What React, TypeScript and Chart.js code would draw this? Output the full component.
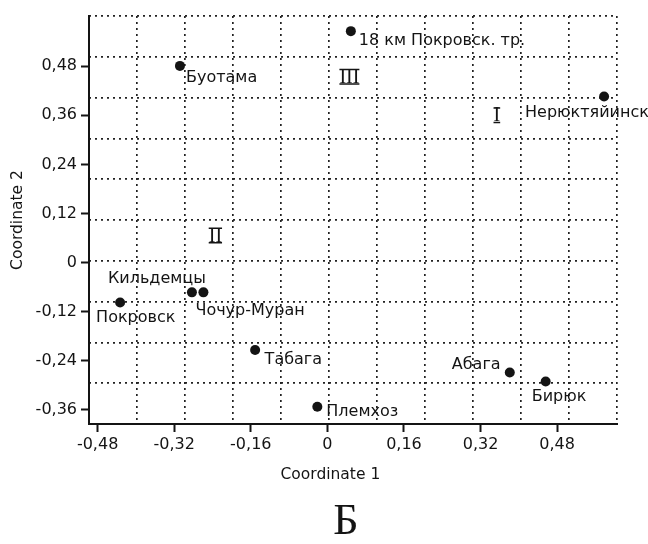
import React, { useEffect, useRef } from 'react';
import { Chart, registerables } from 'chart.js';

Chart.register(...registerables);

// ---- data ----
const SITE_NAMES = [
  '18 км Покровск. тр.',
  'Буотама',
  'Нерюктяйинск',
  'Кильдемцы',
  'Чочур-Муран',
  'Покровск',
  'Табага',
  'Абага',
  'Бирюк',
  'Племхоз',
];
const COORD_1 = [0.049, -0.308, 0.578, -0.283, -0.259, -0.433, -0.151, 0.381, 0.456, -0.021];
const COORD_2 = [0.566, 0.481, 0.406, -0.073, -0.073, -0.098, -0.214, -0.269, -0.291, -0.353];

const X_TICKS = [-0.48, -0.32, -0.16, 0, 0.16, 0.32, 0.48];
const Y_TICKS = [-0.36, -0.24, -0.12, 0, 0.12, 0.24, 0.36, 0.48];
const X_RANGE = [-0.498, 0.605];
const Y_RANGE = [-0.395, 0.603];
const GRID_COLS = 11;
const GRID_ROWS = 10;

const CLUSTER_NAMES = ['I', 'II', 'III'];
const CLUSTER_X = [0.354, -0.234, 0.046];
const CLUSTER_Y = [0.361, 0.067, 0.455];

const X_TITLE = 'Coordinate 1';
const Y_TITLE = 'Coordinate 2';
const PANEL_TITLE = 'Б';

// ---- style ----
const INK = '#141414';
const DOT = '#222222';
const SANS = '"DejaVu Sans", sans-serif';
const SERIF = '"Liberation Serif", serif';
// label offsets from point centre in px: [dx, dy]
const LABEL_OFFSETS: [number, number][] = [
  [8, 10], [6, 12], [-79, 16], [-84, -14], [-8, 18],
  [-24, 15.5], [9.5, 10], [-58, -8], [-14, 15], [9, 5],
];

const fmt = (v: number) => (Math.abs(v) < 1e-9 ? '0' : v.toFixed(2).replace('.', ','));

const labelPlugin = {
  id: 'siteLabels',
  afterDatasetsDraw(chart: any) {
    const ctx = chart.ctx as CanvasRenderingContext2D;
    const meta = chart.getDatasetMeta(0);
    ctx.save();
    ctx.fillStyle = INK;
    ctx.font = `16px ${SANS}`;
    ctx.textAlign = 'left';
    ctx.textBaseline = 'middle';
    meta.data.forEach((pt: any, i: number) => {
      const [dx, dy] = LABEL_OFFSETS[i];
      ctx.fillText(SITE_NAMES[i], pt.x + dx, pt.y + dy);
    });
    ctx.font = `20px ${SERIF}`;
    ctx.textAlign = 'center';
    ctx.textBaseline = 'alphabetic';
    ctx.strokeStyle = INK;
    ctx.lineWidth = 1.5;
    CLUSTER_NAMES.forEach((name, i) => {
      const cx = chart.scales.x.getPixelForValue(CLUSTER_X[i]);
      const cy = chart.scales.y.getPixelForValue(CLUSTER_Y[i]);
      const base = cy + 6.5;
      ctx.fillText(name, cx, base);
      const w = ctx.measureText(name).width;
      ctx.beginPath();
      ctx.moveTo(cx - w / 2, base - 13.5);
      ctx.lineTo(cx + w / 2, base - 13.5);
      ctx.moveTo(cx - w / 2, base + 1);
      ctx.lineTo(cx + w / 2, base + 1);
      ctx.stroke();
    });
    ctx.restore();
  },
  afterDraw(chart: any) {
    const ctx = chart.ctx as CanvasRenderingContext2D;
    const area = chart.chartArea;
    const xs = chart.scales.x;
    ctx.save();
    ctx.fillStyle = INK;
    ctx.textAlign = 'center';
    ctx.textBaseline = 'middle';
    ctx.font = `15.5px ${SANS}`;
    ctx.fillText(X_TITLE, xs.getPixelForValue(0) + 3, area.bottom + 51);
    ctx.font = `44px ${SERIF}`;
    ctx.fillText(PANEL_TITLE, (area.left + area.right) / 2 - 7, area.bottom + 98);
    ctx.restore();
  },
};

export default function App() {
  const ref = useRef<HTMLCanvasElement | null>(null);

  useEffect(() => {
    if (!ref.current) return;
    const chart = new Chart(ref.current, {
      type: 'scatter',
      data: {
        datasets: [
          {
            data: COORD_1.map((x, i) => ({ x, y: COORD_2[i] })),
            pointRadius: 5,
            pointHoverRadius: 5,
            pointBackgroundColor: INK,
            pointBorderColor: INK,
            pointBorderWidth: 0,
            xAxisID: 'x',
            yAxisID: 'y',
          },
        ],
      },
      options: {
        responsive: false,
        animation: false,
        events: [],
        layout: { padding: { top: 16, right: 31, bottom: 0, left: 0 } },
        plugins: {
          legend: { display: false },
          tooltip: { enabled: false },
        },
        scales: {
          x: {
            type: 'linear',
            position: 'bottom',
            min: X_RANGE[0],
            max: X_RANGE[1],
            afterBuildTicks: (s: any) => {
              s.ticks = X_TICKS.map((value) => ({ value }));
            },
            afterFit: (s: any) => {
              s.height = 120;
            },
            ticks: {
              callback: (v: any) => fmt(Number(v)),
              font: { family: SANS, size: 16 },
              color: INK,
              padding: 3,
              maxRotation: 0,
              autoSkip: false,
            },
            grid: { drawOnChartArea: false, drawTicks: true, tickLength: 8, tickWidth: 2, tickColor: INK, color: INK },
            border: { display: true, width: 2, color: INK },
            title: { display: false },
          },
          y: {
            type: 'linear',
            position: 'left',
            min: Y_RANGE[0],
            max: Y_RANGE[1],
            afterBuildTicks: (s: any) => {
              s.ticks = Y_TICKS.map((value) => ({ value }));
            },
            afterFit: (s: any) => {
              s.width = 89;
            },
            ticks: {
              callback: (v: any) => fmt(Number(v)),
              font: { family: SANS, size: 16 },
              color: INK,
              padding: 4,
              autoSkip: false,
            },
            grid: { drawOnChartArea: false, drawTicks: true, tickLength: 8, tickWidth: 2, tickColor: INK, color: INK },
            border: { display: true, width: 2, color: INK },
            title: {
              display: true,
              text: Y_TITLE,
              color: INK,
              font: { family: SANS, size: 15.5 },
              padding: { top: 9, bottom: 0 },
            },
          },
          gx: {
            type: 'linear',
            axis: 'x',
            position: 'top',
            min: 0,
            max: GRID_COLS,
            ticks: { display: false, stepSize: 1 },
            grid: { drawTicks: false, color: DOT, lineWidth: 1.7 },
            border: { display: false, dash: [2, 4] },
            afterFit: (s: any) => {
              s.height = 0;
            },
          },
          gy: {
            type: 'linear',
            axis: 'y',
            position: 'right',
            min: 0,
            max: GRID_ROWS,
            ticks: { display: false, stepSize: 1 },
            grid: { drawTicks: false, color: DOT, lineWidth: 1.7 },
            border: { display: false, dash: [2, 4] },
            afterFit: (s: any) => {
              s.width = 0;
            },
          },
        },
      } as any,
      plugins: [labelPlugin],
    });
    return () => chart.destroy();
  }, []);

  return (
    <div style={{ position: 'absolute', left: 0, top: 0, width: 648, height: 544, background: '#fff' }}>
      <canvas ref={ref} width={648} height={544} style={{ display: 'block', width: 648, height: 544 }} />
    </div>
  );
}
